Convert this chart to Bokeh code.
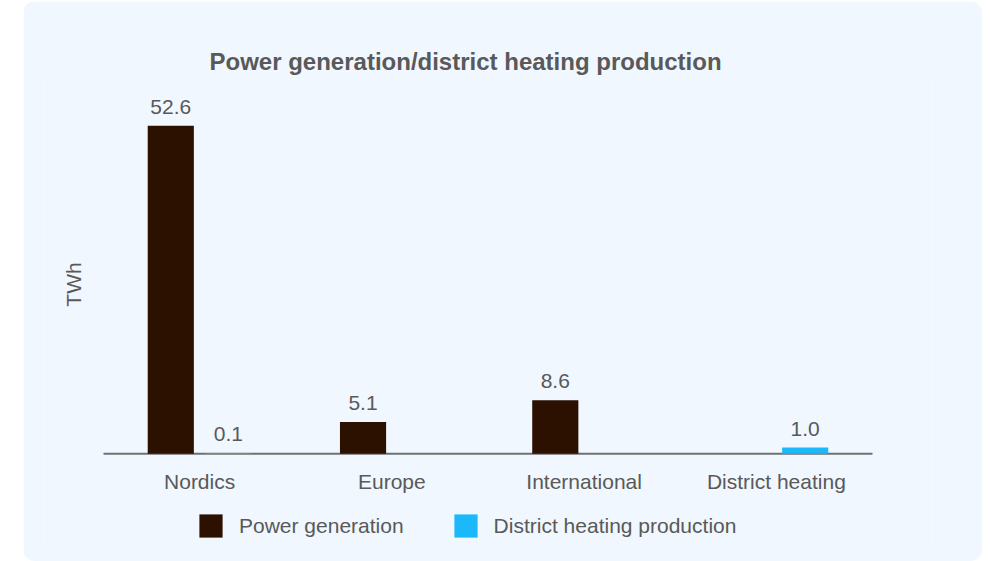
import math
from bokeh.plotting import figure
from bokeh.models import (ColumnDataSource, FactorRange, Range1d, LabelSet, Label, Legend,
                          LegendItem)
from bokeh.transform import dodge
from bokeh.embed import file_html
from bokeh.resources import INLINE
from bokeh.core.properties import value

# ---- data ----
categories = ["Nordics", "Europe", "International", "District heating"]
power_generation = [52.6, 5.1, 8.6, None]
district_heating = [0.1, None, None, 1.0]
series_names = ["Power generation", "District heating production"]
y_label = "TWh"
title_text = "Power generation/district heating production"

FONT = "Liberation Sans"
TEXT = "#595959"
PANEL = "#f0f7fe"
BROWN = "#2c1000"
BLUE = "#1cb9fa"
AXIS = "#707070"


def make_source(vals):
    xs = [c for c, v in zip(categories, vals) if v is not None]
    ys = [v for v in vals if v is not None]
    return ColumnDataSource(dict(x=xs, y=ys, label=[f"{v:.1f}" for v in ys]))


src_p = make_source(power_generation)
src_h = make_source(district_heating)
src_c = ColumnDataSource(dict(x=categories, y=[0] * len(categories)))
src_base = ColumnDataSource(dict(x0=[categories[0]], x1=[categories[-1]], y=[0]))

x_range = FactorRange(*categories, range_padding=0.3121, range_padding_units="absolute")

p = figure(
    x_range=x_range, y_range=Range1d(-15.5, 60),
    width=959, height=560, output_backend="svg", toolbar_location=None,
    min_border_left=20, min_border_right=50, min_border_top=78, min_border_bottom=11,
    background_fill_color=PANEL, border_fill_color=PANEL, outline_line_color=None,
    margin=(1, 0, 0, 23),
    styles={"border-radius": "12px", "overflow": "hidden"},
)
p.xaxis.visible = False
p.yaxis.visible = False
p.xgrid.grid_line_color = None
p.ygrid.grid_line_color = None

# baseline (category axis line)
p.segment(x0=dodge("x0", -0.5, range=x_range), x1=dodge("x1", 0.5, range=x_range),
          y0="y", y1="y", source=src_base, line_color=AXIS, line_width=2)

OFF = 0.15
W = 0.24
r1 = p.vbar(x=dodge("x", -OFF, range=x_range), top="y", width=W, source=src_p,
            fill_color=BROWN, line_color=None)
r2 = p.vbar(x=dodge("x", OFF, range=x_range), top="y", width=W, source=src_h,
            fill_color=BLUE, line_color=None)

for src, off in ((src_p, -OFF), (src_h, OFF)):
    p.add_layout(LabelSet(x=dodge("x", off, range=x_range), y="y", text="label", source=src,
                          text_align="center", text_baseline="alphabetic", y_offset=12,
                          text_font_size="21px", text_color=TEXT, text_font=value(FONT)))

# category labels
p.add_layout(LabelSet(x="x", y="y", text="x", source=src_c, text_align="center",
                      text_baseline="alphabetic", y_offset=-35, text_font_size="21px",
                      text_color=TEXT, text_font=value(FONT)))

# y label
p.add_layout(Label(x=30, y=266, x_units="screen", y_units="screen", text=y_label,
                   angle=math.pi / 2, text_align="center", text_baseline="middle",
                   text_font_size="21px", text_color=TEXT, text_font=FONT))

# title
p.title.text = title_text
p.title.align = "left"
p.title.offset = 166
p.title.text_font_size = "24px"
p.title.text_font_style = "bold"
p.title.text_color = TEXT
p.title.text_font = FONT
p.title.standoff = 10

legend = Legend(
    items=[LegendItem(label=series_names[0], renderers=[r1]),
           LegendItem(label=series_names[1], renderers=[r2])],
    orientation="horizontal", location=(153, 10),
    glyph_width=29, glyph_height=29, label_height=23, label_standoff=14, spacing=47,
    padding=0, margin=0, border_line_color=None, background_fill_alpha=0,
    label_text_font_size="21px", label_text_color=TEXT, label_text_font=FONT,
)
p.add_layout(legend, "center")

open("out.html", "w").write(file_html(p, INLINE))
